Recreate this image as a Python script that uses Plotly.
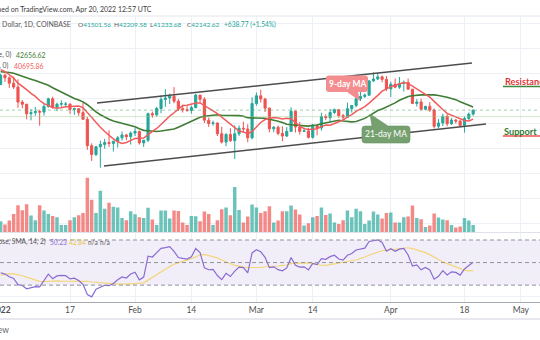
import numpy as np
import pandas as pd
import plotly.graph_objects as go

W, H = 540, 340

# ---- daily BTC/USD candles (COINBASE), 2022-01-01 .. 2022-04-20 ----
dates = pd.date_range("2022-01-01", "2022-04-20", freq="D")

opens = [
    46217, 47738, 47311, 46446, 45833, 43425, 43082, 41558, 41734, 41912,
    41822, 42736, 43950, 42592, 43099, 43080, 43113, 42250, 42375, 41744,
    40681, 36458, 35030, 36276, 36654, 36955, 36813, 37160, 37716, 38166, 37882,
    38469, 38734, 36897, 37316, 41574, 41382, 42406, 43841, 44082, 44380,
    43565, 42380, 42201, 42080, 42548, 44544, 43868, 40538, 40000, 40088,
    38360, 37022, 38250, 37253, 38354, 39238, 39120, 37705,
    43185, 44434, 43926, 42458, 39148, 39397, 38420, 37989, 38742, 41965,
    39437, 38730, 38812, 37782, 39670, 39282, 41118, 40930, 41767, 42203,
    41264, 41004, 42364, 42882, 43962, 44331, 44540, 46820, 47128, 47465, 47063,
    45539, 46285, 45817, 46407, 46580, 45497, 43207.10, 43445, 42287.65, 42753,
    42158, 39550.53, 40081.23, 41163.40, 39943.87, 40554.93, 40386.45, 39685.26,
    40801.13, 41501.56,
]
highs = [
    47954, 47990, 47555, 47505, 47070, 43749, 43145, 42300, 42663, 42200,
    43100, 44135, 44278, 43346, 43724, 43436, 43179, 42534, 42479, 43413,
    41060, 36836, 36433, 37247, 37550, 38919, 37234, 38000, 38720, 38360, 38738,
    39265, 38855, 37387, 41725, 41913, 42656, 44500, 45492, 44799, 45821,
    43916, 43000, 42761, 42876, 44750, 44549, 44200, 40959, 40458, 40137,
    39480, 38448, 39250, 39700, 39700, 40300, 39870, 44200,
    44950, 45400, 44100, 42550, 39620, 39683, 39550, 39430, 42590, 42050,
    40250, 39352, 39304, 39934, 39880, 41718, 41477, 42330, 42400, 42300,
    41550, 43350, 42893, 44180, 45100, 44800, 46900, 48190, 48100, 47700, 47600,
    46700, 47200, 47440, 46880, 47200, 45500, 43900, 43970, 42800, 43420,
    42414, 40700, 41561, 41500, 40870, 40709, 40595, 41116, 41760, 42209.58,
]
lows = [
    46217, 46654, 45704, 45516, 42500, 42446, 40672, 40502, 41242, 39650,
    41268, 42528, 42447, 41982, 42669, 42691, 41550, 41392, 41242, 40596,
    35791, 34009, 34785, 32933, 35954, 36234, 35507, 36155, 37268, 37351, 36632,
    38000, 36625, 36250, 37052, 40930, 41116, 41645, 42666, 43117, 43229,
    42008, 41748, 41870, 41571, 42428, 43315, 40073, 39450, 39635, 38000,
    36800, 36350, 37050, 34322, 38000, 38577, 37000, 37450,
    42845, 43350, 41840, 38600, 38600, 38100, 37160, 37868, 38666, 38550,
    38225, 38666, 37600, 37579, 38100, 38850, 40525, 40150, 41500, 40917,
    40500, 40875, 41750, 42573, 43600, 44100, 44420, 46660, 46950, 46590, 45200,
    44250, 45650, 45540, 45120, 45350, 43100, 42727, 42107, 42125, 41868,
    39200, 39254, 39588, 39550, 39770, 39991, 39546, 38536, 40571, 41233.68,
]
closes = [
    47738, 47311, 46446, 45833, 43425, 43082, 41558, 41734, 41912, 41822,
    42736, 43950, 42592, 43099, 43177, 43113, 42250, 42375, 41744, 40681,
    36458, 35030, 36276, 36654, 36955, 36813, 37160, 37716, 38166, 37882, 38469,
    38734, 36897, 37316, 41574, 41382, 42406, 43841, 44082, 44380, 43565,
    42380, 42201, 42080, 42548, 44544, 43868, 40538, 40000, 40088, 38360,
    37022, 38250, 37253, 38354, 39238, 39120, 37705, 43185,
    44434, 43926, 42458, 39148, 39397, 38420, 37989, 38742, 41965, 39437,
    38730, 38812, 37782, 39670, 39282, 41118, 40930, 41767, 42203, 41264,
    41004, 42364, 42882, 43962, 44331, 44540, 46820, 47128, 47465, 47063, 45539,
    46285, 45817, 46407, 46580, 45497, 43207.10, 43445, 42287.65, 42753, 42158,
    39550.53, 40081.23, 41163.40, 39943.87, 40554.93, 40386.45, 39685.26,
    40801.13, 41503.85, 42142.62,
]
# daily volume, thousand BTC
volume_k = [
    7.7, 5.4, 8.2, 12.8, 18.9, 15.4, 19.6, 11.7, 8.4, 18.9,
    15.2, 12.8, 11.4, 10.5, 5.1, 5.1, 8.4, 10.5, 11.9, 13.5,
    38.0, 22.6, 13.5, 28.9, 16.3, 20.5, 17.7, 17.3, 10.0, 8.4, 14.7,
    12.6, 10.5, 10.0, 17.0, 8.9, 5.1, 15.2, 15.2, 9.6, 15.2,
    14.9, 6.8, 5.1, 11.4, 11.2, 7.7, 14.5, 12.8, 5.1, 8.4,
    16.1, 17.3, 11.9, 31.5, 15.6, 6.8, 11.0, 19.4,
    17.3, 13.5, 14.7, 18.2, 6.8, 8.2, 14.7, 14.7, 18.7, 15.9,
    12.4, 4.7, 6.3, 10.5, 11.4, 17.3, 12.1, 13.1, 6.8, 5.8,
    8.4, 15.2, 10.5, 16.3, 14.7, 5.8, 8.2, 14.5, 12.4, 9.6, 13.5,
    13.8, 6.8, 6.8, 10.5, 11.0, 18.7, 10.0, 9.1, 3.7, 4.7,
    13.1, 10.3, 8.9, 8.4, 5.1, 3.3, 4.0, 10.0, 8.2, 5.1,
]
# closes 2021-11-30 .. 2021-12-31, warm-up for the averages and RSI
warmup_closes = [
    56950, 57229, 56509, 53713, 49253, 49397, 50582, 50569, 50541, 47636,
    47128, 49390, 50053, 46702, 48343, 48864, 47632, 46131, 46834, 46681,
    46914, 48890, 48588, 50820, 50429, 50801, 50718, 50640, 47543, 46465,
    47120, 46217,
]

# hand-drawn rising channel, anchor points
upper_dates = ["2022-01-23 05:30", "2022-04-19 17:30"]
upper_prices = [43280, 49680]
lower_dates = ["2022-01-24 20:00", "2022-04-22 23:00"]
lower_prices = [33200, 39920]
level_price = 41100

tick_dates = ["2022-01-01", "2022-01-17", "2022-02-01", "2022-02-14", "2022-03-01",
              "2022-03-14", "2022-04-01", "2022-04-18", "2022-05-01"]
tick_text = ["", "17", "Feb", "14", "Mar", "14", "Apr", "18", "May"]
year_label = "2022"

TEAL = "#26a69a"
RED = "#ef5350"
MA21_C = "#3f7d35"
MA9_C = "#f25b5b"
RSI_C = "#8a6bd0"
RSI_MA_C = "#f3d67a"
GRID = "#edf1f6"
FONT = "Lato"

# ---- indicators ----
n_vis = len(closes)
all_close = np.array(warmup_closes + closes, dtype=float)
cs = pd.Series(all_close)
ma9 = cs.rolling(9).mean().to_numpy()[-n_vis:]
ma21 = cs.rolling(21).mean().to_numpy()[-n_vis:]

delta = np.diff(all_close)
gain = np.maximum(delta, 0)
loss = np.maximum(-delta, 0)
N = len(all_close)
p = 14
avg_g = np.full(N, np.nan)
avg_l = np.full(N, np.nan)
avg_g[p] = gain[:p].mean()
avg_l[p] = loss[:p].mean()
for i in range(p + 1, N):
    avg_g[i] = (avg_g[i - 1] * (p - 1) + gain[i - 1]) / p
    avg_l[i] = (avg_l[i - 1] * (p - 1) + loss[i - 1]) / p
rsi_all = 100 - 100 / (1 + avg_g / avg_l)
rsi_ma_all = pd.Series(rsi_all).rolling(14).mean().to_numpy()
rsi = rsi_all[-n_vis:]
rsi_ma = rsi_ma_all[-n_vis:]

chg = closes[-1] - closes[-2]
chg_pct = chg / closes[-2] * 100


def px(x, y):
    return x / W, 1 - y / H


def pxy(y):
    return 1 - y / H


# ---- traces ----
fig = go.Figure()
vol_colors = ["rgba(38,166,154,0.68)" if c >= o else "rgba(239,83,80,0.68)"
              for o, c in zip(opens, closes)]
fig.add_trace(go.Bar(x=dates, y=volume_k, marker=dict(color=vol_colors, line_width=0),
                     width=0.8 * 86400000, xaxis="x", yaxis="y2"))
fig.add_trace(go.Candlestick(
    x=dates, open=opens, high=highs, low=lows, close=closes,
    increasing=dict(line=dict(color=TEAL, width=1), fillcolor=TEAL),
    decreasing=dict(line=dict(color=RED, width=1), fillcolor=RED),
    whiskerwidth=0, xaxis="x", yaxis="y"))
fig.add_trace(go.Scatter(x=dates, y=ma21, mode="lines", line=dict(color=MA21_C, width=1.6),
                         xaxis="x", yaxis="y"))
fig.add_trace(go.Scatter(x=dates, y=ma9, mode="lines", line=dict(color=MA9_C, width=1.5),
                         xaxis="x", yaxis="y"))
fig.add_trace(go.Scatter(x=pd.to_datetime(upper_dates), y=upper_prices, mode="lines",
                         line=dict(color="#4d4d4d", width=1.6), xaxis="x", yaxis="y"))
fig.add_trace(go.Scatter(x=pd.to_datetime(lower_dates), y=lower_prices, mode="lines",
                         line=dict(color="#4d4d4d", width=1.6), xaxis="x", yaxis="y"))
fig.add_trace(go.Scatter(x=dates, y=rsi_ma, mode="lines", line=dict(color=RSI_MA_C, width=1.2),
                         xaxis="x2", yaxis="y3"))
fig.add_trace(go.Scatter(x=dates, y=rsi, mode="lines", line=dict(color=RSI_C, width=1.2),
                         xaxis="x2", yaxis="y3"))

# ---- shapes ----
shapes = []
# RSI band and levels
shapes.append(dict(type="rect", xref="paper", yref="y3", x0=0, x1=1, y0=30, y1=70,
                   fillcolor="rgba(126,87,194,0.10)", line_width=0, layer="below"))
for lv in (70, 50, 30):
    shapes.append(dict(type="line", xref="paper", yref="y3", x0=0, x1=1, y0=lv, y1=lv,
                       line=dict(color="#8f929b", width=1, dash="4px,3px")))
# price lines
shapes.append(dict(type="line", xref="paper", yref="y", x0=0, x1=1, y0=closes[-1], y1=closes[-1],
                   line=dict(color="rgba(80,170,110,0.55)", width=1, dash="dot")))
shapes.append(dict(type="line", xref="paper", yref="y", x0=0, x1=1, y0=level_price, y1=level_price,
                   line=dict(color="rgba(150,200,130,0.45)", width=1)))
# pane borders
for yy, col, wd in ((16, "#e3e6ec", 1), (232.5, "#dfe2e8", 1), (319, "#e6e8ed", 2)):
    shapes.append(dict(type="line", xref="paper", yref="paper", x0=0, x1=1,
                       y0=pxy(yy), y1=pxy(yy), line=dict(color=col, width=wd)))


def callout(x0, y0, x1, y1, r, side, ta, tb, tip):
    """Rounded label box with a pointer on the top or bottom edge (pixel units)."""
    def P(x, y):
        a, b = px(x, y)
        return f"{a:.5f},{b:.5f}"
    d = f"M{P(x0 + r, y0)}"
    if side == "top":
        d += f" L{P(ta, y0)} L{P(*tip)} L{P(tb, y0)}"
    d += f" L{P(x1 - r, y0)} Q{P(x1, y0)} {P(x1, y0 + r)}"
    d += f" L{P(x1, y1 - r)} Q{P(x1, y1)} {P(x1 - r, y1)}"
    if side == "bottom":
        d += f" L{P(tb, y1)} L{P(*tip)} L{P(ta, y1)}"
    d += f" L{P(x0 + r, y1)} Q{P(x0, y1)} {P(x0, y1 - r)}"
    d += f" L{P(x0, y0 + r)} Q{P(x0, y0)} {P(x0 + r, y0)} Z"
    return d


shapes.append(dict(type="path", xref="paper", yref="paper",
                   path=callout(326, 75.5, 368, 92, 3, "bottom", 347, 358, (360, 101)),
                   fillcolor="#f48d8f", line=dict(width=0)))
shapes.append(dict(type="path", xref="paper", yref="paper",
                   path=callout(362, 126, 410, 143, 3, "top", 372, 388, (370, 114)),
                   fillcolor="#76a06f", line=dict(color="#6a9463", width=0.6)))
# underlines for the level labels
shapes.append(dict(type="line", xref="paper", yref="paper", x0=503 / W, x1=1,
                   y0=pxy(86.5), y1=pxy(86.5), line=dict(color="#3d8a3d", width=1.5)))
shapes.append(dict(type="line", xref="paper", yref="paper", x0=503 / W, x1=1,
                   y0=pxy(136), y1=pxy(136), line=dict(color="#ef5350", width=1.5)))

# ---- text ----
ann = []


def label(x, y, text, size=6.7, color="#555555", xanchor="left", bold=False):
    a, b = px(x, y)
    ann.append(dict(x=a, y=b, xref="paper", yref="paper", text=f"<b>{text}</b>" if bold else text,
                    showarrow=False, xanchor=xanchor, yanchor="middle", borderpad=0,
                    font=dict(family=FONT, size=size, color=color)))


def tc(v, c=TEAL):
    return f"<span style='color:{c}'>{v}</span>"


label(153, 9, "Published on TradingView.com, Apr 20, 2022 12:57 UTC", size=7.0, color="#3c3c3c",
      xanchor="right")
# symbol line: name, then O/H/L/C and change
label(72, 25, "Bitcoin / U.S. Dollar, 1D, COINBASE", size=7.0, xanchor="right")
for xx, key, val in ((76.5, "O", opens[-1]), (112.5, "H", highs[-1]), (149, "L", lows[-1]),
                     (186, "C", closes[-1])):
    label(xx, 25, f"{key}{tc(f'{val:.2f}')}", size=6.5)
label(222.5, 25, tc(f"+{chg:.2f} (+{chg_pct:.2f}%)"), size=6.6)
# moving-average legend
label(13, 55, "MA (21, close, 0)", size=6.9, xanchor="right")
label(15, 55, tc(f"{ma21[-1]:.2f}", MA21_C), size=6.9)
label(10, 66, "MA (9, close, 0)", size=6.9, xanchor="right")
label(13, 66, tc(f"{ma9[-1]:.2f}", MA9_C), size=6.9)
# RSI legend
label(47, 241.5, "RSI (14, close, SMA, 14, 2)", size=6.6, xanchor="right")
label(49, 241.5, tc(f"{rsi[-1]:.2f}", RSI_C), size=6.6)
label(67.5, 241.5, tc(f"{rsi_ma[-1]:.2f}", "#e6c64a"), size=6.6)
label(87, 241.5, "n/a", size=6.6)
label(99, 241.5, "n/a", size=6.6)

label(347, 83.5, "9-day MA", size=8.5, color="white", xanchor="center", bold=True)
label(386, 134.5, "21-day MA", size=8.5, color="white", xanchor="center")
label(504, 81.5, "Resistance", size=9.2, color="#e0383a", bold=True)
label(503, 131, "Support", size=9.2, color="#2f7a34", bold=True)
label(9.5, 330, "TradingView", size=8.5, color="#666666", xanchor="right")
# year label under the first tick
ann.append(dict(x=tick_dates[0], xref="x2", y=pxy(310), yref="paper", text=f"<b>{year_label}</b>",
                showarrow=False, xanchor="center", yanchor="middle",
                font=dict(family=FONT, size=8.5, color="#505050")))

# ---- layout ----
x_range = ["2021-12-31 20:27", "2022-05-05 10:05"]
price_top = 40000 + (123.5 - 16) * 160
price_bot = 40000 - (232.5 - 123.5) * 160

fig.update_layout(
    width=W, height=H, margin=dict(l=0, r=0, t=0, b=0),
    paper_bgcolor="white", plot_bgcolor="white",
    showlegend=False, hovermode=False, boxgap=0.3,
    font=dict(family=FONT),
    xaxis=dict(domain=[0, 1], range=x_range, anchor="y", type="date",
               tickvals=tick_dates, showticklabels=False, showgrid=True, gridcolor=GRID,
               zeroline=False, showline=False, ticks="", rangeslider=dict(visible=False)),
    xaxis2=dict(domain=[0, 1], range=x_range, anchor="y3", type="date", matches="x",
                tickvals=tick_dates, ticktext=tick_text, showgrid=True, gridcolor=GRID,
                tickfont=dict(family=FONT, size=8.5, color="#505050"),
                showline=True, linecolor="#a6a9b0", linewidth=1, ticks="", zeroline=False),
    yaxis=dict(domain=[pxy(232.5), pxy(16)], range=[price_bot, price_top],
               tickvals=list(range(24000, 60000, 4000)), showticklabels=False,
               showgrid=True, gridcolor=GRID, zeroline=False, ticks=""),
    yaxis2=dict(overlaying="y", anchor="x", range=[-0.2, 151], showgrid=False,
                showticklabels=False, zeroline=False, ticks=""),
    yaxis3=dict(domain=[pxy(301.7), pxy(233)], range=[15.33, 76.2], tickvals=[20, 40, 60],
                showticklabels=False, showgrid=True, gridcolor=GRID, zeroline=False, ticks=""),
    shapes=shapes, annotations=ann,
)

fig.write_html("out.html")
